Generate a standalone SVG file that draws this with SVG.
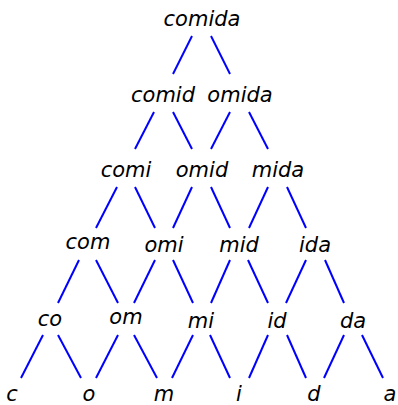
<svg xmlns="http://www.w3.org/2000/svg" width="398" height="405" viewBox="0 0 398 405">
<style>
text{font-family:"DejaVu Sans",sans-serif;font-style:italic;font-size:21px;fill:#000;text-anchor:middle}
#edges line{stroke:#0000ff;stroke-width:2}
</style>
<rect width="398" height="405" fill="#fff"/>
<g id="edges">
<line x1="192" y1="36" x2="173" y2="74"/><line x1="211" y1="36" x2="230" y2="74"/>
<line x1="154" y1="112" x2="135" y2="149"/><line x1="173" y1="112" x2="192" y2="149"/>
<line x1="230" y1="112" x2="211" y2="149"/><line x1="249" y1="112" x2="268" y2="149"/>
<line x1="117" y1="187" x2="96" y2="228"/><line x1="135" y1="187" x2="155" y2="228"/>
<line x1="192" y1="187" x2="173" y2="228"/><line x1="211" y1="187" x2="230" y2="228"/>
<line x1="268" y1="187" x2="249" y2="228"/><line x1="287" y1="187" x2="306" y2="228"/>
<line x1="79" y1="260" x2="58" y2="303"/><line x1="96" y1="260" x2="118" y2="303"/>
<line x1="155" y1="260" x2="134" y2="303"/><line x1="173" y1="260" x2="193" y2="303"/>
<line x1="230" y1="260" x2="211" y2="303"/><line x1="248" y1="260" x2="268" y2="303"/>
<line x1="306" y1="260" x2="286" y2="303"/><line x1="325" y1="260" x2="344" y2="303"/>
<line x1="43" y1="335" x2="21" y2="378"/><line x1="58" y1="335" x2="81" y2="378"/>
<line x1="118" y1="335" x2="96" y2="378"/><line x1="134" y1="335" x2="157" y2="378"/>
<line x1="193" y1="335" x2="172" y2="378"/><line x1="210" y1="335" x2="230" y2="378"/>
<line x1="268" y1="335" x2="249" y2="378"/><line x1="287" y1="335" x2="306" y2="378"/>
<line x1="344" y1="335" x2="324" y2="378"/><line x1="362" y1="335" x2="383" y2="378"/>
</g>
<g id="n-comida"><text x="202" y="26">comida</text></g>
<g id="n-comid"><text x="163" y="102">comid</text></g>
<g id="n-omida"><text x="240" y="102">omida</text></g>
<g id="n-comi"><text x="126" y="177">comi</text></g>
<g id="n-omid"><text x="202" y="177">omid</text></g>
<g id="n-mida"><text x="278" y="177">mida</text></g>
<g id="n-com"><text x="88" y="249">com</text></g>
<g id="n-omi"><text x="164" y="252">omi</text></g>
<g id="n-mid"><text x="239" y="252">mid</text></g>
<g id="n-ida"><text x="315" y="252">ida</text></g>
<g id="n-co"><text x="50" y="326">co</text></g>
<g id="n-om"><text x="126" y="324">om</text></g>
<g id="n-mi"><text x="201" y="328">mi</text></g>
<g id="n-id"><text x="277" y="328">id</text></g>
<g id="n-da"><text x="353" y="328">da</text></g>
<g id="n-c"><text x="12" y="401">c</text></g>
<g id="n-o"><text x="89" y="401">o</text></g>
<g id="n-m"><text x="164" y="401">m</text></g>
<g id="n-i"><text x="239" y="401">i</text></g>
<g id="n-d"><text x="314" y="401">d</text></g>
<g id="n-a"><text x="390" y="401">a</text></g>
</svg>
